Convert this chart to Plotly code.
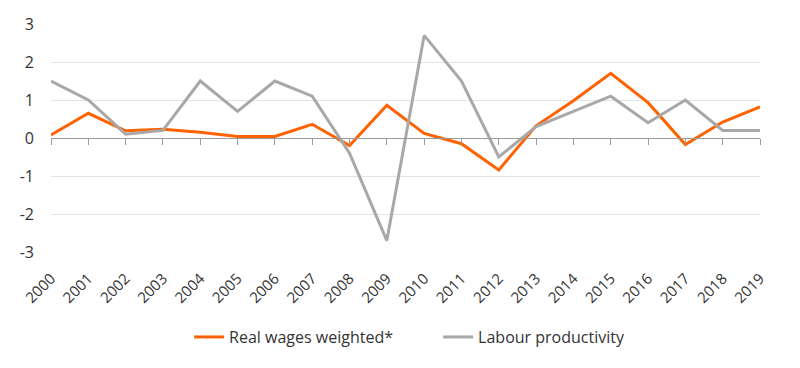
import plotly.graph_objects as go

years = [str(y) for y in range(2000, 2020)]
real_wages = [0.08, 0.65, 0.19, 0.23, 0.15, 0.04, 0.04, 0.36, -0.2, 0.86,
              0.12, -0.15, -0.84, 0.32, 0.98, 1.70, 0.93, -0.17, 0.42, 0.82]
labour_prod = [1.5, 1.0, 0.1, 0.2, 1.5, 0.7, 1.5, 1.1, -0.4, -2.7,
               2.7, 1.5, -0.5, 0.3, 0.7, 1.1, 0.4, 1.0, 0.2, 0.2]
y_ticks = [-3, -2, -1, 0, 1, 2, 3]
y_tick_labels = ["-3", "-2", "-1", "0", "1", "2", "3"]

ORANGE = "#FF6200"
GREY = "#A8A8A8"
TEXT = "#333333"
FONT = "Open Sans"

fig = go.Figure()
fig.add_trace(go.Scatter(x=years, y=real_wages, mode="lines", name="Real wages weighted*",
                         line=dict(color=ORANGE, width=3)))
fig.add_trace(go.Scatter(x=years, y=labour_prod, mode="lines", name="Labour productivity",
                         line=dict(color=GREY, width=3)))
# invisible trace to carry the zero-axis with tick marks
fig.add_trace(go.Scatter(x=years, y=[None]*len(years), xaxis="x2", showlegend=False,
                         hoverinfo="skip", mode="lines"))

fig.update_layout(
    width=800, height=368,
    margin=dict(l=51, r=40, t=24, b=116),
    paper_bgcolor="white", plot_bgcolor="white",
    font=dict(family=FONT, size=16, color=TEXT),
    showlegend=True,
    legend=dict(orientation="h", x=0.546, xanchor="center", y=-0.373, yanchor="middle",
                font=dict(family=FONT, size=16, color=TEXT), entrywidth=204,
                tracegroupgap=0),
    xaxis=dict(type="category", range=[0, 19], showgrid=False, zeroline=False,
               showline=False, ticks="", tickangle=-45, automargin=False,
               ticklabelstandoff=14,
               tickfont=dict(family=FONT, size=15, color=TEXT)),
    xaxis2=dict(type="category", overlaying="x", matches="x", anchor="free", position=0.5,
                side="bottom", showgrid=False, zeroline=False, showline=True,
                linecolor="#9a9a9a", linewidth=1, ticks="outside", ticklen=6,
                tickcolor="#9a9a9a", tickwidth=1, showticklabels=False, automargin=False),
    yaxis=dict(range=[-3, 3], tickvals=y_ticks, ticktext=y_tick_labels,
               showgrid=True, gridcolor="#e4e4e4",
               gridwidth=1, zeroline=False, showline=False, ticks="", automargin=False,
               ticklabelstandoff=16,
               tickfont=dict(family=FONT, size=16, color=TEXT)),
)

fig.write_html("out.html", config={"displayModeBar": False},
               post_script="document.body.style.margin='0';")
